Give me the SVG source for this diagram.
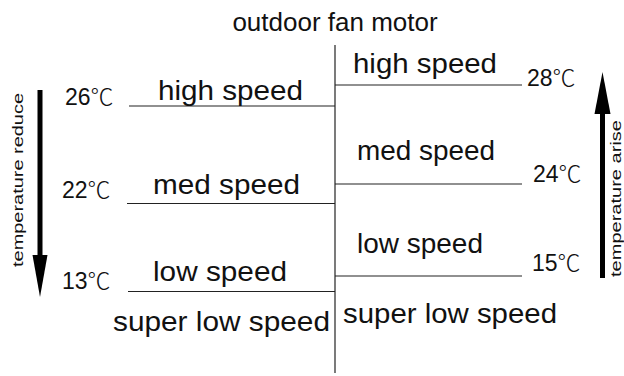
<svg xmlns="http://www.w3.org/2000/svg" width="624" height="376" viewBox="0 0 624 376">
<style>
.t{font-family:"Liberation Sans",Arial,sans-serif;fill:#111;}
.lbl{font-size:28px;}
.num{font-size:23px;}
.deg{font-family:"Noto Sans CJK SC","DejaVu Sans",sans-serif;font-weight:300;}
.vt{font-size:14px;}
.ln{stroke:#222;stroke-width:1.2;fill:none;}
.arr{fill:#000;}
</style>
<rect width="624" height="376" fill="#fff"/>
<g id="title"><text class="t" x="335" y="31" font-size="26" text-anchor="middle">outdoor fan motor</text></g>
<g id="connectors">
<line class="ln" x1="335" y1="45" x2="335" y2="373"/>
<line class="ln" x1="129" y1="106" x2="335" y2="106" stroke="#000"/>
<line class="ln" x1="127" y1="203.5" x2="335" y2="203.5" stroke="#555"/>
<line class="ln" x1="128" y1="291.5" x2="335" y2="291.5" stroke="#555"/>
<line class="ln" x1="335" y1="85" x2="522" y2="85" stroke="#333"/>
<line class="ln" x1="335" y1="184" x2="522" y2="184" stroke="#333"/>
<line class="ln" x1="335" y1="276" x2="522" y2="276" stroke="#333"/>
</g>
<g id="left-high"><text class="t lbl" x="158" y="100" textLength="145" lengthAdjust="spacingAndGlyphs">high speed</text><text class="t num" x="65" y="104.5">26<tspan class="deg">℃</tspan></text></g>
<g id="left-med"><text class="t lbl" x="153" y="194" textLength="147" lengthAdjust="spacingAndGlyphs">med speed</text><text class="t num" x="62" y="198">22<tspan class="deg">℃</tspan></text></g>
<g id="left-low"><text class="t lbl" x="153" y="281" textLength="134" lengthAdjust="spacingAndGlyphs">low speed</text><text class="t num" x="62" y="289">13<tspan class="deg">℃</tspan></text></g>
<g id="left-superlow"><text class="t lbl" x="113" y="331" textLength="217" lengthAdjust="spacingAndGlyphs">super low speed</text></g>
<g id="right-high"><text class="t lbl" x="353" y="73" textLength="144" lengthAdjust="spacingAndGlyphs">high speed</text><text class="t num" x="527" y="86">28<tspan class="deg">℃</tspan></text></g>
<g id="right-med"><text class="t lbl" x="357" y="160" textLength="138" lengthAdjust="spacingAndGlyphs">med speed</text><text class="t num" x="533" y="181.5">24<tspan class="deg">℃</tspan></text></g>
<g id="right-low"><text class="t lbl" x="357" y="253" textLength="126" lengthAdjust="spacingAndGlyphs">low speed</text><text class="t num" x="532" y="271">15<tspan class="deg">℃</tspan></text></g>
<g id="right-superlow"><text class="t lbl" x="343" y="323" textLength="214" lengthAdjust="spacingAndGlyphs">super low speed</text></g>
<g id="arrow-reduce">
<rect class="arr" x="37.5" y="90" width="5" height="167"/>
<polygon class="arr" points="32.5,255 47.5,255 40,297"/>
<text class="t vt" transform="translate(23,180) rotate(-90)" text-anchor="middle" textLength="174" lengthAdjust="spacingAndGlyphs">temperature reduce</text>
</g>
<g id="arrow-arise">
<rect class="arr" x="600" y="112" width="5" height="166"/>
<polygon class="arr" points="594.5,114 610.5,114 602.5,72"/>
<text class="t vt" transform="translate(620.5,198.5) rotate(-90)" text-anchor="middle" textLength="157" lengthAdjust="spacingAndGlyphs">temperature arise</text>
</g>
</svg>
